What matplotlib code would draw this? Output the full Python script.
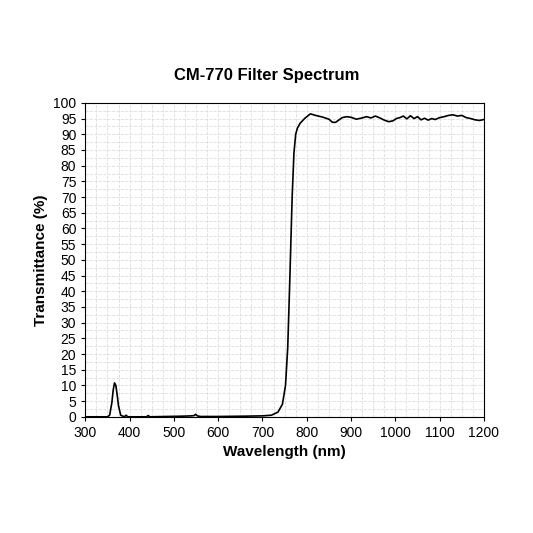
import matplotlib
matplotlib.use("Agg")
import matplotlib.pyplot as plt
from matplotlib.ticker import MultipleLocator

plt.rcParams['font.family'] = ['Liberation Sans', 'DejaVu Sans']

wavelength = [300, 350, 355, 360, 363, 366, 369, 372, 375, 380, 388, 392, 396, 400, 438, 442, 446, 520, 540, 546, 549, 553, 560, 600, 660, 700, 720, 735, 745, 752, 757, 762, 767, 771, 775, 779, 785, 795, 808,
              820, 835, 850, 858, 865, 872, 880, 890, 900, 912, 925, 935, 945, 955, 965, 975, 985, 995, 1002, 1010, 1018, 1026, 1034, 1042, 1050, 1058, 1066, 1074, 1082, 1090, 1100, 1110, 1120, 1130, 1140, 1150, 1160, 1170, 1180, 1190, 1200]
transmittance = [0, 0, 0.5, 4.5, 8.5, 10.8, 10.0, 7.0, 3.5, 0.5, 0.0, 0.5, 0.0, 0.0, 0.0, 0.4, 0.0, 0.2, 0.3, 0.4, 0.8, 0.3, 0.1, 0.1, 0.2, 0.3, 0.5, 1.5, 4, 10, 22, 45, 70, 84, 90, 92, 93.5, 95, 96.5,
                 96.0, 95.5, 94.8, 93.8, 93.8, 94.5, 95.3, 95.6, 95.4, 94.8, 95.2, 95.6, 95.2, 95.8, 95.2, 94.5, 94.0, 94.3, 95.0, 95.3, 95.8, 94.9, 95.9, 95.0, 95.6, 94.6, 95.1, 94.5, 95.0, 94.7, 95.3, 95.6, 96.0, 96.2, 95.8, 96.0, 95.3, 95.0, 94.6, 94.4, 94.7]

fig = plt.figure(figsize=(5.33, 5.33), dpi=100)
ax = fig.add_axes([0.16, 0.218, 0.748, 0.589])
ax.plot(wavelength, transmittance, color='black', lw=1.2)
ax.set_xlim(300, 1200)
ax.set_ylim(0, 100)
ax.xaxis.set_major_locator(MultipleLocator(100))
ax.xaxis.set_minor_locator(MultipleLocator(25))
ax.yaxis.set_major_locator(MultipleLocator(5))
ax.yaxis.set_minor_locator(MultipleLocator(2.5))
ax.grid(which='both', color='#dddddd', lw=0.6, ls='--')
ax.set_axisbelow(True)
ax.tick_params(which='minor', length=0)
ax.tick_params(which='major', labelsize=10, length=3)
ax.set_xlabel('Wavelength (nm)', fontsize=11, fontweight='bold')
ax.set_ylabel('Transmittance (%)', fontsize=11, fontweight='bold')
fig.text(0.5, 0.85, 'CM-770 Filter Spectrum', ha='center', fontsize=12, fontweight='bold')
fig.savefig('out.png', dpi=100)
